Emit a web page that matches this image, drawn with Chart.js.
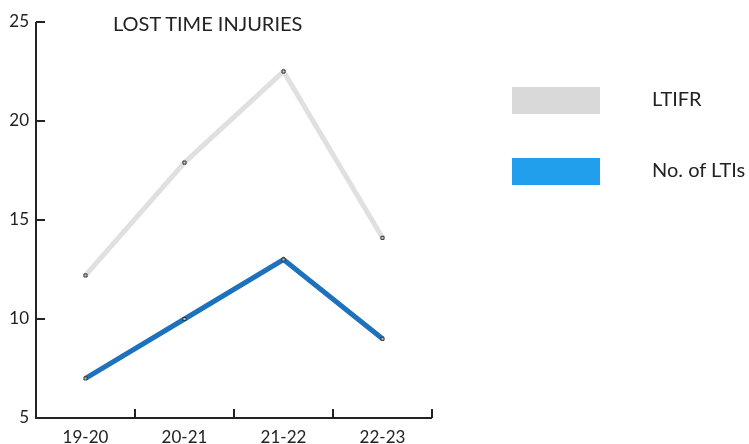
<!DOCTYPE html>
<html>
<head>
<meta charset="utf-8">
<script src="https://cdn.jsdelivr.net/npm/chart.js@4/dist/chart.umd.min.js"></script>
<style>
  html, body { margin: 0; padding: 0; background: #fff; }
  #wrap { position: relative; width: 749px; height: 444px; }
  canvas { position: absolute; left: 0; top: 0; }
  .title { position: absolute; left: 113px; top: 11px; font: 20px Lato, sans-serif; color: #222; line-height: 24px; }
  .leg { position: absolute; left: 512px; width: 88px; height: 27px; }
  .legtxt { position: absolute; left: 652px; font: 20px Lato, sans-serif; color: #222; line-height: 24px; }
</style>
</head>
<body>
<div id="wrap">
  <canvas id="c" width="749" height="444"></canvas>
  <div class="title">LOST TIME INJURIES</div>
  <div class="leg" id="leg0" style="top:87px"></div>
  <div class="legtxt" id="lt0" style="top:86px"></div>
  <div class="leg" id="leg1" style="top:158px"></div>
  <div class="legtxt" id="lt1" style="top:157px"></div>
</div>
<script>
const categories = ['19-20', '20-21', '21-22', '22-23'];
const seriesNames = ['LTIFR', 'No. of LTIs'];
const ltifr = [12.2, 17.9, 22.5, 14.1];
const ltis = [7, 10, 13, 9];
const yTicks = [5, 10, 15, 20, 25];

const lineColors = ['#e0e0e0', '#1e72bd'];
const swatchColors = ['#d9d9d9', '#219fec'];

seriesNames.forEach((n, i) => {
  document.getElementById('lt' + i).textContent = n;
  document.getElementById('leg' + i).style.background = swatchColors[i];
});

// Axis lines with inward tick marks
const axesPlugin = {
  id: 'inwardAxes',
  afterDatasetsDraw(chart) {
    const { ctx, chartArea: a, scales } = chart;
    ctx.save();
    ctx.strokeStyle = '#222';
    ctx.lineWidth = 2;
    ctx.beginPath();
    ctx.moveTo(a.left, a.top);
    ctx.lineTo(a.left, a.bottom);
    ctx.lineTo(a.right, a.bottom);
    ctx.stroke();
    ctx.beginPath();
    yTicks.forEach(v => {
      const y = scales.y.getPixelForValue(v);
      ctx.moveTo(a.left, y);
      ctx.lineTo(a.left + 9, y);
    });
    const n = categories.length;
    for (let i = 0; i <= n; i++) {
      const x = a.left + i * (a.right - a.left) / n;
      ctx.moveTo(x, a.bottom);
      ctx.lineTo(x, a.bottom - 9);
    }
    ctx.stroke();
    ctx.restore();
  }
};

new Chart(document.getElementById('c'), {
  type: 'line',
  data: {
    labels: categories,
    datasets: [
      { label: seriesNames[0], data: ltifr, borderColor: lineColors[0], borderWidth: 5,
        pointStyle: 'rect', pointRadius: 2.2, pointBorderWidth: 1, pointBorderColor: '#333', pointBackgroundColor: '#ccc' },
      { label: seriesNames[1], data: ltis, borderColor: lineColors[1], borderWidth: 5,
        pointStyle: 'rect', pointRadius: 2.2, pointBorderWidth: 1, pointBorderColor: '#333', pointBackgroundColor: '#bbb' }
    ]
  },
  options: {
    responsive: false,
    animation: false,
    layout: { padding: { top: 22, right: 317, left: 0, bottom: 0 } },
    plugins: { legend: { display: false }, tooltip: { enabled: false } },
    scales: {
      x: {
        offset: true,
        grid: { display: false, drawTicks: false },
        border: { display: false },
        ticks: { color: '#222', font: { family: 'Lato', size: 17 }, padding: 9, maxRotation: 0 },
        afterFit(s) { s.height = 26; }
      },
      y: {
        min: 5, max: 25,
        afterBuildTicks(s) { s.ticks = yTicks.map(v => ({ value: v })); },
        grid: { display: false, drawTicks: false },
        border: { display: false },
        ticks: { color: '#222', font: { family: 'Lato', size: 17 }, padding: 7 },
        afterFit(s) { s.width = 36; }
      }
    }
  },
  plugins: [axesPlugin]
});
</script>
</body>
</html>
